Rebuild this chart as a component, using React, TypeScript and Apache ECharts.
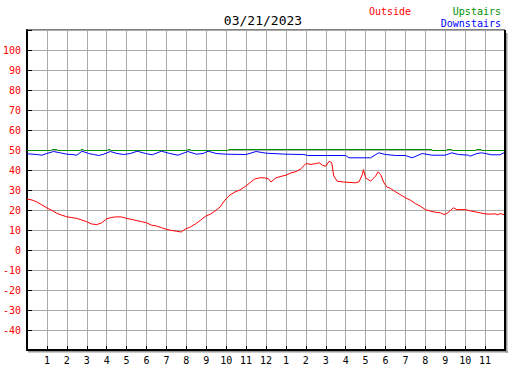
import React, { useEffect, useRef } from "react";
import * as echarts from "echarts";

const titleText = "03/21/2023";
const seriesNames = ["Outside", "Upstairs", "Downstairs"];
const seriesColors = ["#ff0000", "#009000", "#0000ff"];

const outsideHours = [
  0, 0.25, 0.5, 0.75, 1.0, 1.25, 1.5, 1.75, 2.0, 2.25, 2.5, 2.75, 3.0, 3.25, 3.5, 3.75,
  4.0, 4.25, 4.5, 4.75, 5.0, 5.25, 5.5, 5.75, 6.0, 6.25, 6.5, 6.75, 7.0, 7.25, 7.5, 7.75,
  7.95, 8.2, 8.45, 8.7, 8.95, 9.2, 9.44, 9.69, 9.94, 10.19, 10.44, 10.68, 10.93, 11.18,
  11.43, 11.68, 11.93, 12.12, 12.25, 12.5, 12.75, 13.0, 13.26, 13.51, 13.75, 14.0, 14.26,
  14.5, 14.67, 14.84, 15.0, 15.17, 15.3, 15.4, 15.57, 16.0, 16.49, 16.67, 16.84, 16.89,
  17.0, 17.25, 17.5, 17.63, 17.75, 17.92, 18.08, 18.25, 18.5, 18.77, 19.0, 19.27, 19.5,
  19.77, 20.0, 20.26, 20.5, 20.75, 20.92, 21.08, 21.26, 21.41, 21.58, 22.0, 22.25, 22.5,
  22.74, 22.99, 23.24, 23.5, 23.64, 23.75, 24.0,
];
const outsideTemps = [
  25.5, 25.0, 24.0, 22.5, 21.0, 19.8, 18.3, 17.4, 16.6, 16.2, 15.8, 15.0, 14.1, 13.0, 12.7, 13.6,
  15.6, 16.3, 16.6, 16.5, 15.8, 15.3, 14.7, 14.2, 13.6, 12.4, 12.0, 11.2, 10.3, 9.8, 9.4, 9.0,
  10.5, 11.5, 13.0, 14.8, 16.8, 17.9, 19.5, 21.5, 25.0, 27.5, 29.0, 30.0, 31.6, 33.5,
  35.5, 36.1, 36.1, 35.6, 34.0, 36.1, 36.8, 37.4, 38.6, 39.2, 40.6, 43.2, 42.8,
  43.2, 43.6, 42.3, 41.9, 44.4, 43.6, 37.0, 34.4, 33.9, 33.6, 34.1, 37.8, 40.2,
  36.1, 34.4, 36.9, 39.1, 37.8, 33.6, 31.4, 30.8, 29.1, 27.5, 26.1, 24.8, 23.2,
  21.8, 20.2, 19.4, 18.9, 18.6, 17.8, 18.2, 19.8, 21.1, 20.2, 20.2, 19.6, 19.1,
  18.6, 18.1, 17.9, 18.1, 17.6, 18.2, 17.6,
];

const upstairsHours = [
  0, 1.2, 1.25, 1.5, 1.55, 2.68, 2.72, 2.82, 2.86, 4.03, 4.07, 4.17, 4.21, 8.03, 8.07, 8.2,
  8.24, 10.08, 10.12, 20.33, 20.37, 21.05, 21.09, 21.33, 21.37, 22.52, 22.56, 22.8, 22.84, 24,
];
const upstairsTemps = [
  49.75, 49.75, 50.25, 50.25, 49.75, 49.75, 50.25, 50.25, 49.75, 49.75, 50.25, 50.25, 49.75,
  49.75, 50.25, 50.25, 49.75, 49.75, 50.25, 50.25, 49.75, 49.75, 50.25, 50.25, 49.75, 49.75,
  50.25, 50.25, 49.75, 49.75,
];

const downstairsHours = [
  0, 0.49, 0.74, 0.99, 1.33, 1.67, 2.0, 2.25, 2.5, 2.76, 3.1, 3.35, 3.6, 3.85, 4.18, 4.52,
  4.85, 5.19, 5.53, 5.95, 6.28, 6.75, 7.17, 7.58, 8.08, 8.5, 8.84, 9.09, 9.5, 10.0, 11.0,
  11.5, 12.0, 13.0, 13.9, 14.1, 16.0, 16.16, 17.25, 17.66, 18.0, 18.5, 19.0, 19.34, 19.84,
  20.33, 21.0, 21.33, 21.66, 22.17, 22.25, 22.59, 22.83, 23.33, 23.74, 24.0,
];
const downstairsTemps = [
  48.1, 47.75, 47.4, 48.25, 49.25, 48.6, 47.9, 47.75, 47.4, 49.4, 48.25, 47.75, 47.25, 47.9,
  49.25, 48.25, 47.75, 48.25, 49.4, 48.25, 47.6, 49.4, 48.25, 47.4, 49.25, 47.9, 48.25, 49.4,
  48.25, 47.9, 47.75, 49.25, 48.4, 47.9, 47.75, 47.25, 47.25, 46.1, 46.1, 48.6, 47.75, 47.25,
  47.25, 46.1, 48.25, 47.4, 47.4, 48.6, 47.75, 47.4, 46.9, 48.25, 48.6, 47.6, 47.6, 48.9,
];

const hourLabel = (v: number) => (v <= 0 || v >= 24 ? "" : String(v % 12 === 0 ? 12 : v % 12));
const tempLabel = (v: number) => (v <= -50 || v >= 110 ? "" : String(v));

const zip = (xs: number[], ys: number[]) => xs.map((x, i) => [x, ys[i]]);

const MONO = "DejaVu Sans Mono";

export default function App() {
  const ref = useRef<HTMLDivElement>(null);
  useEffect(() => {
    if (!ref.current) return;
    const chart = echarts.init(ref.current, undefined, { renderer: "svg" });
    const gridLeft = 25;
    const gridTop = 30;
    const gridW = 480;
    const gridH = 320;
    const right = gridLeft + gridW;
    const bottom = gridTop + gridH;
    chart.setOption({
      animation: false,
      backgroundColor: "#ffffff",
      grid: {
        left: gridLeft,
        top: gridTop,
        width: gridW,
        height: gridH,
        show: true,
        borderColor: "#000",
        borderWidth: 1,
        containLabel: false,
      },
      xAxis: {
        type: "value",
        min: 0,
        max: 24,
        interval: 1,
        axisLine: { show: true, onZero: false, lineStyle: { color: "#000", width: 2 } },
        axisTick: { show: true, inside: true, length: 4, lineStyle: { color: "#000", width: 1 } },
        axisLabel: {
          formatter: hourLabel,
          color: "#000",
          fontFamily: MONO,
          fontSize: 10,
          margin: 5,
        },
        splitLine: { show: true, lineStyle: { color: "#aaaaaa", width: 1 } },
      },
      yAxis: {
        type: "value",
        min: -50,
        max: 110,
        interval: 10,
        axisLine: { show: true, onZero: false, lineStyle: { color: "#000", width: 2 } },
        axisTick: { show: true, inside: true, length: 5, lineStyle: { color: "#000", width: 1 } },
        axisLabel: {
          formatter: tempLabel,
          color: "#ff0000",
          fontFamily: MONO,
          fontSize: 10,
          margin: 6,
        },
        splitLine: { show: true, lineStyle: { color: "#aaaaaa", width: 1 } },
      },
      graphic: [
        {
          type: "rect",
          silent: true,
          z: 100,
          shape: { x: right + 1, y: gridTop + 3, width: 1.5, height: gridH },
          style: { fill: "#999999" },
        },
        {
          type: "rect",
          silent: true,
          z: 100,
          shape: { x: gridLeft + 3, y: bottom + 1, width: gridW, height: 1.5 },
          style: { fill: "#999999" },
        },
        {
          type: "rect",
          silent: true,
          z: 101,
          shape: { x: right - 1, y: gridTop, width: 2, height: gridH + 1 },
          style: { fill: "#000000" },
        },
        {
          type: "text",
          x: 263,
          y: 20,
          style: {
            text: titleText,
            fill: "#000",
            font: `13px "${MONO}"`,
            textAlign: "center",
            textVerticalAlign: "middle",
          },
        },
        {
          type: "text",
          x: 369,
          y: 11,
          style: {
            text: seriesNames[0],
            fill: seriesColors[0],
            font: `10px "${MONO}"`,
            textAlign: "left",
            textVerticalAlign: "middle",
          },
        },
        {
          type: "text",
          x: 501,
          y: 11,
          style: {
            text: seriesNames[1],
            fill: seriesColors[1],
            font: `10px "${MONO}"`,
            textAlign: "right",
            textVerticalAlign: "middle",
          },
        },
        {
          type: "text",
          x: 501,
          y: 23,
          style: {
            text: seriesNames[2],
            fill: seriesColors[2],
            font: `10px "${MONO}"`,
            textAlign: "right",
            textVerticalAlign: "middle",
          },
        },
      ],
      series: [
        {
          name: seriesNames[1],
          type: "line",
          showSymbol: false,
          data: zip(upstairsHours, upstairsTemps),
          lineStyle: { color: seriesColors[1], width: 1 },
          itemStyle: { color: seriesColors[1] },
          z: 3,
        },
        {
          name: seriesNames[2],
          type: "line",
          showSymbol: false,
          data: zip(downstairsHours, downstairsTemps),
          lineStyle: { color: seriesColors[2], width: 1 },
          itemStyle: { color: seriesColors[2] },
          z: 4,
        },
        {
          name: seriesNames[0],
          type: "line",
          showSymbol: false,
          data: zip(outsideHours, outsideTemps),
          lineStyle: { color: seriesColors[0], width: 1 },
          itemStyle: { color: seriesColors[0] },
          z: 5,
        },
      ],
    });
    return () => chart.dispose();
  }, []);
  return (
    <div
      ref={ref}
      style={{ position: "absolute", left: 0, top: 0, width: 527, height: 370, background: "#fff" }}
    />
  );
}
